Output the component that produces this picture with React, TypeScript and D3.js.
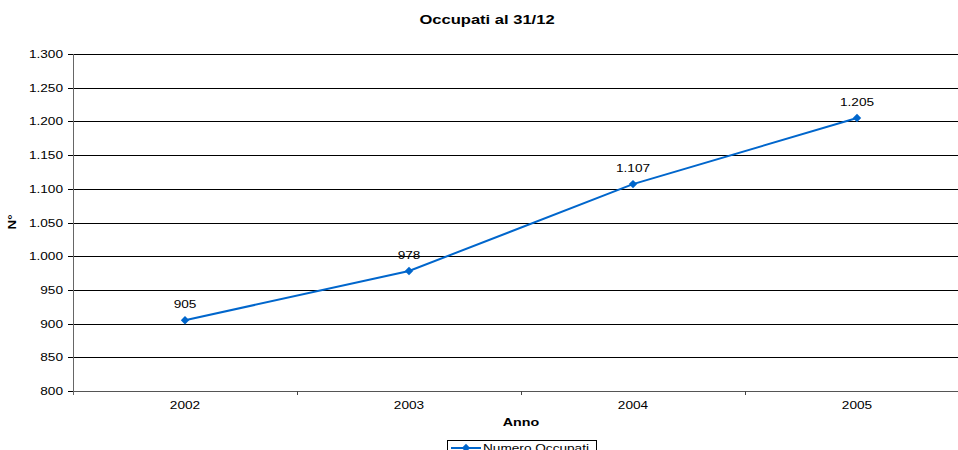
import React from "react";
import * as d3 from "d3";

const years = ["2002", "2003", "2004", "2005"];
const occupati = [905, 978, 1107, 1205];
const yTicks = [800, 850, 900, 950, 1000, 1050, 1100, 1150, 1200, 1250, 1300];
const seriesName = "Numero Occupati";
const title = "Occupati al 31/12";
const xTitle = "Anno";
const yTitle = "N°";

const fmt = (v: number) => {
  const s = String(v);
  return s.length > 3 ? s.slice(0, s.length - 3) + "." + s.slice(s.length - 3) : s;
};

type TP = {
  x: number; y: number; anchor?: "start" | "middle" | "end"; size?: number;
  bold?: boolean; sx?: number; children: React.ReactNode;
};
function T({ x, y, anchor = "start", size = 11, bold = false, sx = 1.24, children }: TP) {
  return (
    <text transform={`translate(${x},${y}) scale(${sx},1)`} textAnchor={anchor} fontSize={size} fontWeight={bold ? "bold" : "normal"} fill="#000">
      {children}
    </text>
  );
}

export default function App() {
  const W = 958, H = 450;
  const left = 73, top = 54, bottom = 391;
  const band = 224;
  const x = d3.scaleBand<string>().domain(years).range([left, left + band * years.length]).padding(0);
  const y = d3.scaleLinear().domain([800, 1300]).range([bottom, top]);
  const font = "'Liberation Sans', Arial, sans-serif";
  const color = "#0066CC";
  const line = d3.line<number>()
    .x((_, i) => (x(years[i]) as number) + x.bandwidth() / 2)
    .y((d) => y(d));
  const diamond = d3.symbol().type(d3.symbolDiamond2).size(45)();
  return (
    <svg width={W} height={H} style={{ position: "absolute", left: 0, top: 0, background: "#fff" }} fontFamily={font}>
      <T x={487} y={24} anchor="middle" size={12} bold sx={1.38}>{title}</T>
      {yTicks.map((t) => (
        <g key={t}>
          <line x1={left} x2={W} y1={Math.round(y(t)) + 0.5} y2={Math.round(y(t)) + 0.5} stroke={t === 800 ? "#555" : "#000"} strokeWidth={1} />
          <line x1={left - 5} x2={left} y1={Math.round(y(t)) + 0.5} y2={Math.round(y(t)) + 0.5} stroke="#000" />
          <T x={left - 10} y={y(t) + 4} anchor="end">{fmt(t)}</T>
        </g>
      ))}
      <line x1={left + 0.5} x2={left + 0.5} y1={top} y2={bottom + 4} stroke="#666" />
      {years.map((yr, i) => (
        <g key={yr}>
          {i > 0 && <line x1={(x(yr) as number) + 0.5} x2={(x(yr) as number) + 0.5} y1={bottom} y2={bottom + 4} stroke="#444" />}
          <T x={(x(yr) as number) + x.bandwidth() / 2} y={bottom + 18} anchor="middle">{yr}</T>
        </g>
      ))}
      <T x={521} y={426} anchor="middle" bold sx={1.3}>{xTitle}</T>
      <text transform={`translate(16,222) rotate(-90) scale(1.2,1)`} textAnchor="middle" fontSize={11} fontWeight="bold">{yTitle}</text>
      <path d={line(occupati) || ""} fill="none" stroke={color} strokeWidth={2} />
      {occupati.map((v, i) => {
        const cx = (x(years[i]) as number) + x.bandwidth() / 2;
        return (
          <g key={i}>
            <path d={diamond || ""} transform={`translate(${cx},${y(v)})`} fill={color} />
            <T x={cx} y={y(v) - 12} anchor="middle">{fmt(v)}</T>
          </g>
        );
      })}
      <rect x={447.5} y={440.5} width={149} height={20} fill="#fff" stroke="#000" />
      <line x1={451} x2={481} y1={448} y2={448} stroke={color} strokeWidth={2} />
      <path d={diamond || ""} transform="translate(466,448)" fill={color} />
      <T x={483} y={452}>{seriesName}</T>
    </svg>
  );
}
